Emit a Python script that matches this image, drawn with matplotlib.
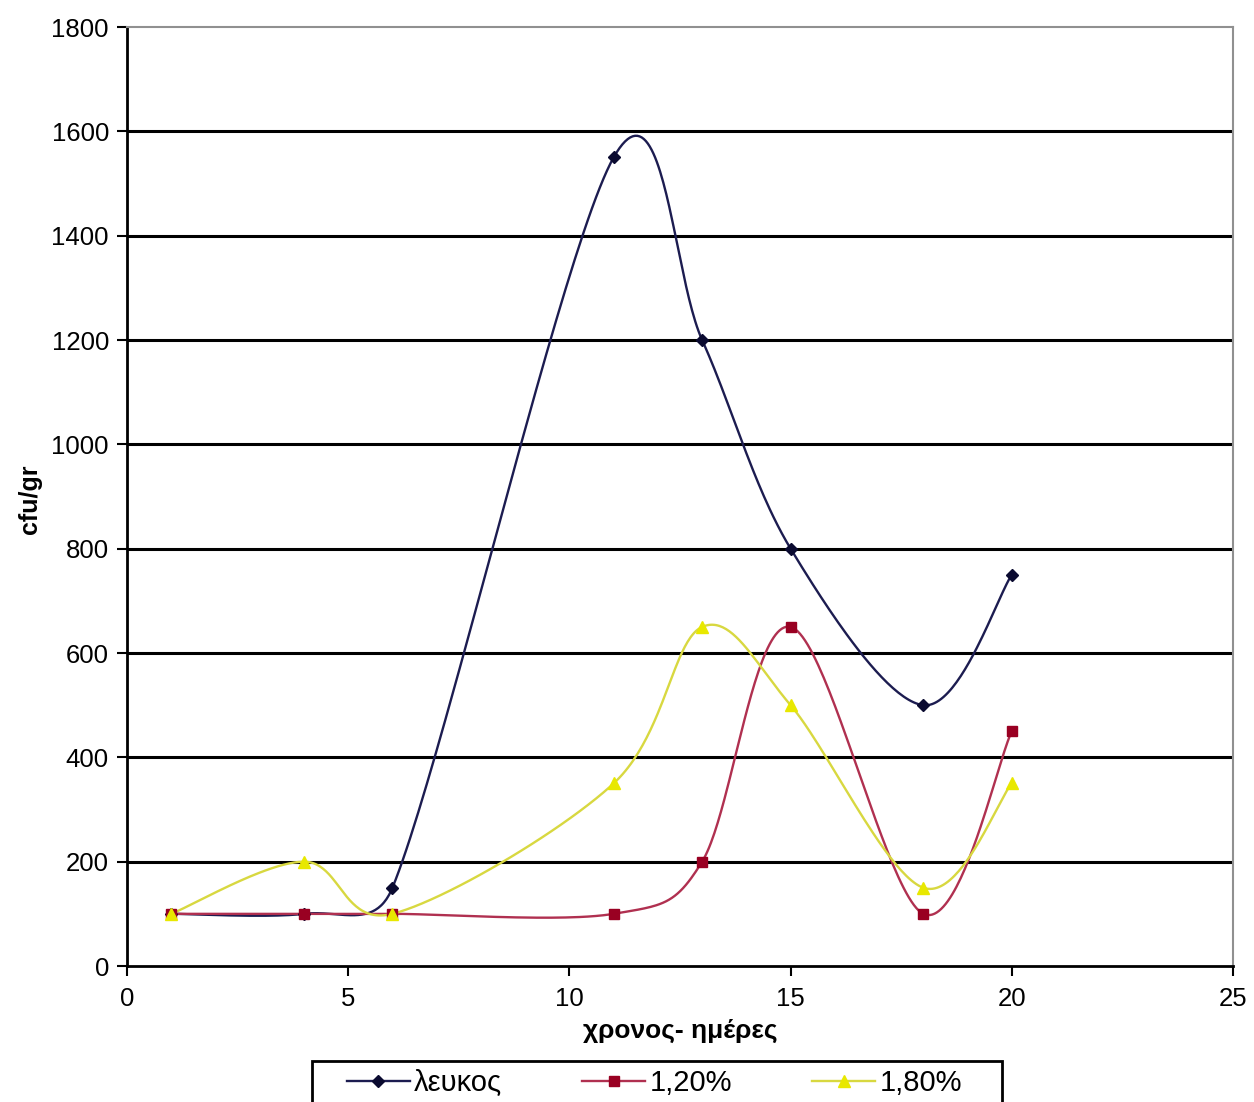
import numpy as np
import matplotlib
matplotlib.use("Agg")
import matplotlib.pyplot as plt
from matplotlib.lines import Line2D
from matplotlib.patches import Rectangle

days = [1, 4, 6, 11, 13, 15, 18, 20]
leukos = [100, 100, 150, 1550, 1200, 800, 500, 750]
p120 = [100, 100, 100, 100, 200, 650, 100, 450]
p180 = [100, 200, 100, 350, 650, 500, 150, 350]
series_names = ["λευκος", "1,20%", "1,80%"]
yticks = [0, 200, 400, 600, 800, 1000, 1200, 1400, 1600, 1800]
xticks = [0, 5, 10, 15, 20, 25]

W, H = 1254, 1102
fig = plt.figure(figsize=(W / 100, H / 100), dpi=100)
l, r, t, b = 127, 1233, 27, 966
ax = fig.add_axes([l / W, 1 - b / H, (r - l) / W, (b - t) / H])
ax.set_xlim(0, 25)
ax.set_ylim(0, 1800)

# pixel scales for smoothing in screen space
sx = (r - l) / 25.0
sy = (b - t) / 1800.0


def smooth(xs, ys, n=50):
    """Excel-like smoothed line: cubic Bezier with 1/6 tangents, capped at half segment."""
    P = np.column_stack([np.array(xs, float) * sx, np.array(ys, float) * sy])
    out = []
    m = len(P)
    for i in range(m - 1):
        p0 = P[i - 1] if i > 0 else P[i]
        p1 = P[i]
        p2 = P[i + 1]
        p3 = P[i + 2] if i + 2 < m else P[i + 1]
        d02 = np.linalg.norm(p2 - p0)
        d12 = np.linalg.norm(p2 - p1)
        d13 = np.linalg.norm(p3 - p1)
        f1 = 1 / 6.0
        f2 = 1 / 6.0
        if d02 / 6.0 > d12 / 2.0 and d02 > 0:
            f1 = d12 / d02 / 2.0
        if d13 / 6.0 > d12 / 2.0 and d13 > 0:
            f2 = d12 / d13 / 2.0
        c1 = p1 + (p2 - p0) * f1
        c2 = p2 - (p3 - p1) * f2
        tt = np.linspace(0, 1, n)[:, None]
        seg = ((1 - tt) ** 3) * p1 + 3 * ((1 - tt) ** 2) * tt * c1 + 3 * (1 - tt) * tt ** 2 * c2 + tt ** 3 * p2
        out.append(seg if i == 0 else seg[1:])
    S = np.vstack(out)
    return S[:, 0] / sx, S[:, 1] / sy


# gridlines
for yv in yticks[1:-1]:
    ax.axhline(yv, color="black", lw=2.2, zorder=1)

styles = [
    (leukos, "#1c1c50", "#0a0a30", "D", 6.5),
    (p120, "#b03050", "#990022", "s", 7.5),
    (p180, "#d8d840", "#e8e800", "^", 9),
]
handles = []
for (ys, lc, mc, mk, ms), name in zip(styles, series_names):
    sxs, sys_ = smooth(days, ys)
    ax.plot(sxs, sys_, color=lc, lw=1.7, zorder=3)
    ax.plot(days, ys, linestyle="none", marker=mk, markersize=ms, color=mc, zorder=4)
    handles.append(Line2D([0], [0], color=lc, lw=1.7, marker=mk, markersize=ms,
                          markerfacecolor=mc, markeredgecolor=mc, label=name))

ax.set_xticks(xticks)
ax.set_yticks(yticks)
ax.tick_params(axis="both", labelsize=18.5, direction="out", length=7, width=1.5, color="black")
ax.tick_params(axis="y", pad=6)
ax.tick_params(axis="x", pad=8)
for lab in ax.get_xticklabels() + ax.get_yticklabels():
    lab.set_fontfamily("Liberation Sans")

ax.spines["left"].set_color("black")
ax.spines["left"].set_linewidth(2)
ax.spines["bottom"].set_color("black")
ax.spines["bottom"].set_linewidth(2)
ax.spines["top"].set_color("#909090")
ax.spines["top"].set_linewidth(1.5)
ax.spines["right"].set_color("#909090")
ax.spines["right"].set_linewidth(1.5)

fig.text(30 / W, 1 - 499 / H, "cfu/gr", rotation=90, ha="center", va="center",
         fontsize=18, fontweight="bold", family="Liberation Sans")
fig.text(680 / W, 1 - 1031 / H, "χρονος- ημέρες", ha="center", va="center",
         fontsize=19, fontweight="bold", family="Liberation Sans")

# legend frame (cut off by bottom edge of the figure)
fig.patches.append(Rectangle((312 / W, -0.05), (1002 - 312) / W, 0.05 + (1102 - 1061) / H,
                             transform=fig.transFigure, fill=False, edgecolor="black",
                             linewidth=2, zorder=5))

leg = fig.legend(handles=handles, loc="upper left", bbox_to_anchor=(347 / W, 1 - 1069 / H),
                 ncol=3, frameon=False, handlelength=2.15,
                 columnspacing=2.75, handletextpad=0.15,
                 prop={"family": "Liberation Sans", "size": 21},
                 borderpad=0, borderaxespad=0)

fig.savefig("out.png", dpi=100)
